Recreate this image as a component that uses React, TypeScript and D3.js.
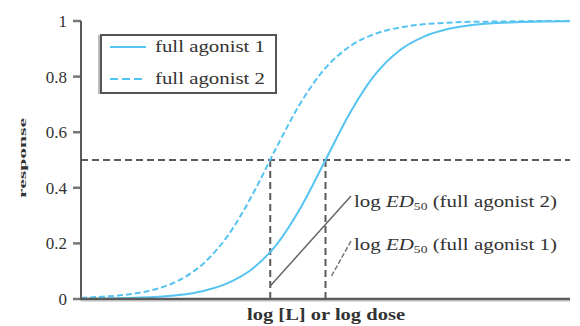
import React, { useEffect, useRef } from 'react';
import * as d3 from 'd3';

// log dose positions (arbitrary units, no tick labels on x)
const logDose = [0, 0.5, 1, 1.5, 2, 2.5, 3, 3.5, 4, 4.5, 5, 5.5, 6, 6.5, 7, 7.5, 8, 8.5, 9, 9.5, 10];
const agonist1 = [0.001, 0.002, 0.004, 0.007, 0.014, 0.029, 0.057, 0.108, 0.196, 0.331, 0.5, 0.669, 0.804, 0.892, 0.943, 0.971, 0.986, 0.993, 0.996, 0.998, 0.999];
const agonist2 = [0.004, 0.009, 0.017, 0.034, 0.067, 0.127, 0.227, 0.373, 0.546, 0.708, 0.831, 0.909, 0.953, 0.976, 0.988, 0.994, 0.997, 0.998, 0.999, 1, 1];
const ed50 = [5.0, 3.87]; // agonist 1, agonist 2
const yTicks = [0, 0.2, 0.4, 0.6, 0.8, 1];
const yTickLabels = ['0', '0.2', '0.4', '0.6', '0.8', '1'];
const seriesNames = ['full agonist 1', 'full agonist 2'];

const BLUE = '#55c4f2';
const GREY = '#5a5a5a';
const FONT = '"Liberation Serif", "DejaVu Serif", serif';

const App = () => {
  const ref = useRef<SVGSVGElement>(null);

  useEffect(() => {
    const width = 580;
    const height = 326;
    const margin = { top: 21, right: 10, bottom: 27, left: 81 };

    const svg = d3.select(ref.current);
    svg.selectAll('*').remove();

    const x = d3.scaleLinear().domain([0, 10]).range([margin.left, width - margin.right]);
    const y = d3.scaleLinear().domain([0, 1]).range([height - margin.bottom, margin.top]);

    // y ticks
    const yAxis = svg.append('g').attr('transform', `translate(${margin.left},0)`);
    yTicks.forEach((t, i) => {
      yAxis.append('line')
        .attr('x1', -8).attr('x2', 0)
        .attr('y1', y(t)).attr('y2', y(t))
        .attr('stroke', '#777').attr('stroke-width', 2.5);
      yAxis.append('text')
        .attr('x', -14).attr('y', y(t) + 6)
        .attr('text-anchor', 'end')
        .attr('font-family', FONT).attr('font-size', 17)
        .attr('fill', '#333')
        .text(yTickLabels[i]);
    });

    // horizontal 0.5 line
    svg.append('line')
      .attr('x1', x(0)).attr('x2', x(10))
      .attr('y1', y(0.5)).attr('y2', y(0.5))
      .attr('stroke', GREY).attr('stroke-width', 2)
      .attr('stroke-dasharray', '7,4');

    // vertical ED50 lines
    ed50.forEach((e) => {
      svg.append('line')
        .attr('x1', x(e)).attr('x2', x(e))
        .attr('y1', y(0.5)).attr('y2', y(0))
        .attr('stroke', GREY).attr('stroke-width', 2)
        .attr('stroke-dasharray', '7,4');
    });

    // curves
    const line = d3.line<number>()
      .x((_, i) => x(logDose[i]))
      .y((d) => y(d))
      .curve(d3.curveMonotoneX);

    svg.append('path')
      .attr('d', line(agonist2))
      .attr('fill', 'none').attr('stroke', BLUE).attr('stroke-width', 2)
      .attr('stroke-dasharray', '6,3');
    svg.append('path')
      .attr('d', line(agonist1))
      .attr('fill', 'none').attr('stroke', BLUE).attr('stroke-width', 2);

    // axes lines
    svg.append('line')
      .attr('x1', x(0)).attr('x2', x(10))
      .attr('y1', y(0) + 2).attr('y2', y(0) + 2)
      .attr('stroke', '#ddd').attr('stroke-width', 2);
    svg.append('line')
      .attr('x1', x(0) - 1).attr('x2', x(10))
      .attr('y1', y(0)).attr('y2', y(0))
      .attr('stroke', GREY).attr('stroke-width', 2.5);
    svg.append('line')
      .attr('x1', x(0)).attr('x2', x(0))
      .attr('y1', y(1)).attr('y2', y(0))
      .attr('stroke', GREY).attr('stroke-width', 2);

    // leader lines for annotations
    svg.append('line')
      .attr('x1', x(ed50[1])).attr('y1', 286)
      .attr('x2', 351).attr('y2', 196)
      .attr('stroke', '#666').attr('stroke-width', 1.5);
    svg.append('line')
      .attr('x1', x(ed50[0]) + 6).attr('y1', 276)
      .attr('x2', 351).attr('y2', 241)
      .attr('stroke', '#777').attr('stroke-width', 1.5)
      .attr('stroke-dasharray', '5,2');

    // annotation labels
    const annot = (yy: number, name: string) => {
      const t = svg.append('text')
        .attr('x', 354).attr('y', yy)
        .attr('font-family', FONT).attr('font-size', 17)
        .attr('fill', '#333')
        .attr('textLength', 203).attr('lengthAdjust', 'spacingAndGlyphs');
      t.append('tspan').text('log ');
      t.append('tspan').attr('font-style', 'italic').text('ED');
      t.append('tspan').attr('font-size', 11).attr('dy', 3).text('50');
      t.append('tspan').attr('dy', -3).text(` (${name})`);
    };
    annot(207, seriesNames[1]);
    annot(250, seriesNames[0]);

    // legend
    const lg = svg.append('g');
    lg.append('rect')
      .attr('x', 101).attr('y', 35).attr('width', 175).attr('height', 58)
      .attr('fill', 'white').attr('stroke', '#555').attr('stroke-width', 2);
    lg.append('line').attr('x1', 99).attr('x2', 99).attr('y1', 35).attr('y2', 94)
      .attr('stroke', '#bbb').attr('stroke-width', 2);
    seriesNames.forEach((name, i) => {
      const yy = 47 + i * 32;
      lg.append('line')
        .attr('x1', 110).attr('x2', 146)
        .attr('y1', yy).attr('y2', yy)
        .attr('stroke', BLUE).attr('stroke-width', 2)
        .attr('stroke-dasharray', i === 1 ? '8,4' : null);
      lg.append('text')
        .attr('x', 155).attr('y', yy + 5)
        .attr('font-family', FONT).attr('font-size', 17)
        .attr('fill', '#333')
        .attr('textLength', 110).attr('lengthAdjust', 'spacingAndGlyphs')
        .text(name);
    });

    // axis titles
    svg.append('text')
      .attr('x', 326).attr('y', 320)
      .attr('text-anchor', 'middle')
      .attr('font-family', FONT).attr('font-size', 16).attr('font-weight', 'bold')
      .attr('fill', '#333')
      .attr('textLength', 158).attr('lengthAdjust', 'spacingAndGlyphs')
      .text('log [L] or log dose');

    svg.append('text')
      .attr('transform', `translate(26,158) rotate(-90)`)
      .attr('text-anchor', 'middle')
      .attr('font-family', FONT).attr('font-size', 11).attr('font-weight', 'bold')
      .attr('fill', '#333')
      .attr('textLength', 80).attr('lengthAdjust', 'spacingAndGlyphs')
      .text('response');
  }, []);

  return (
    <svg ref={ref} width={580} height={326}
      style={{ position: 'absolute', left: 0, top: 0, background: 'white' }} />
  );
};

export default App;
